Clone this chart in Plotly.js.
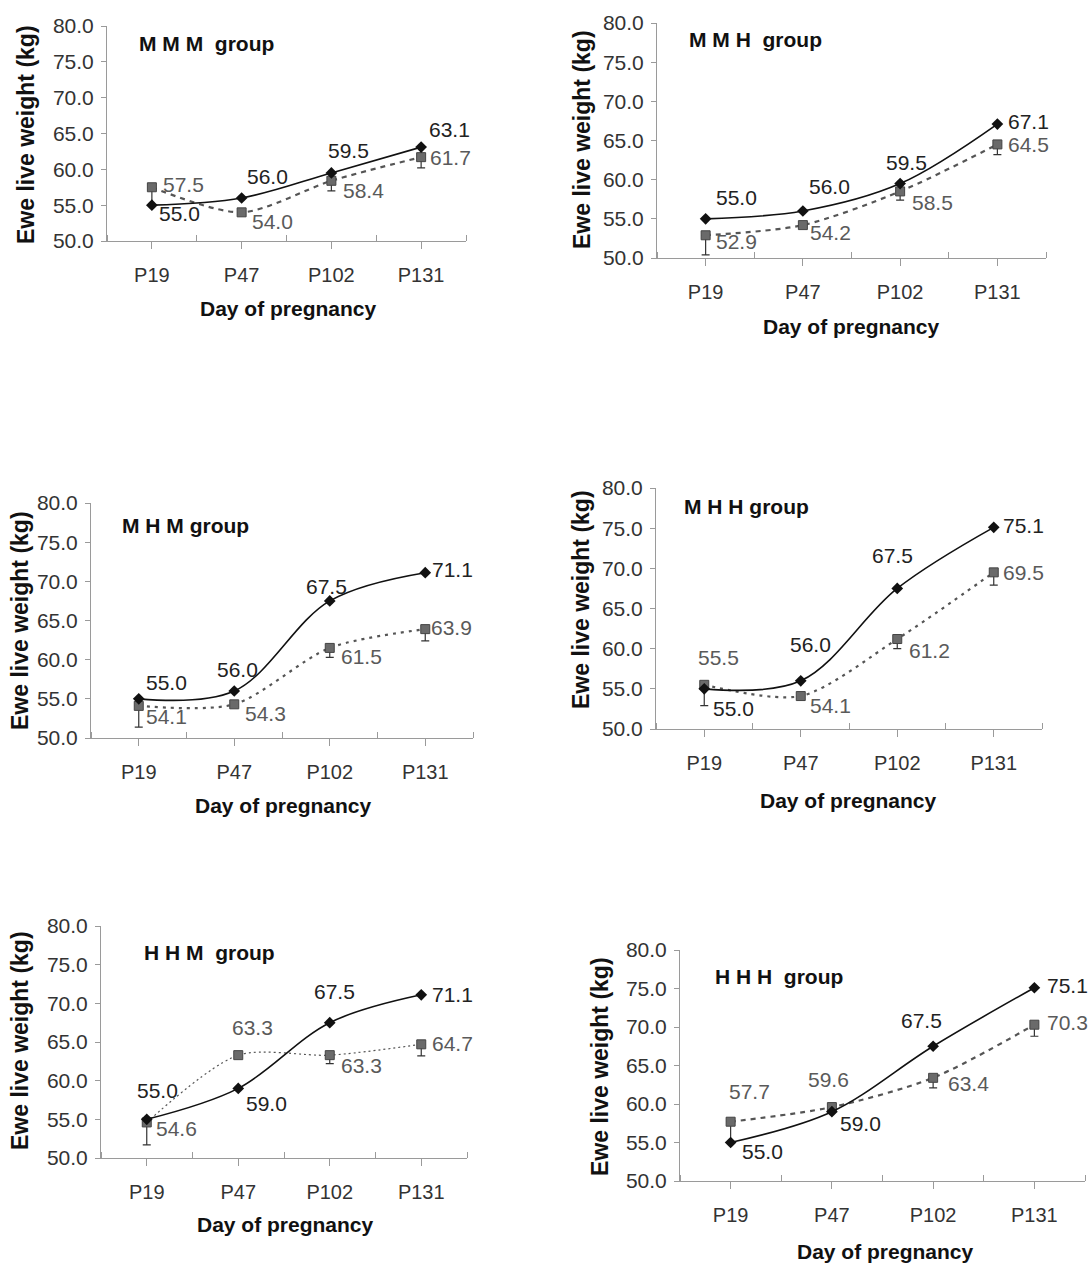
<!DOCTYPE html>
<html>
<head>
<meta charset="utf-8">
<script src="https://cdn.plot.ly/plotly-3.0.1.min.js"></script>
<style>html,body{margin:0;padding:0;background:#fff}#chart{width:1090px;height:1266px}</style>
</head>
<body>
<div id="chart"></div>
<script>
// ---------- DATA ----------
const days = ['P19', 'P47', 'P102', 'P131'];
const groupNames = ['M M M  group', 'M M H  group', 'M H M group', 'M H H group', 'H H M  group', 'H H H  group'];
const yTitle = 'Ewe live weight (kg)';
const xTitle = 'Day of pregnancy';

const mmmSolid = [55.0, 56.0, 59.5, 63.1];
const mmmDash  = [57.5, 54.0, 58.4, 61.7];
const mmmErr   = [2.5, 0.3, 1.4, 1.5];

const mmhSolid = [55.0, 56.0, 59.5, 67.1];
const mmhDash  = [52.9, 54.2, 58.5, 64.5];
const mmhErr   = [2.5, 0.3, 1.1, 1.3];

const mhmSolid = [55.0, 56.0, 67.5, 71.1];
const mhmDash  = [54.1, 54.3, 61.5, 63.9];
const mhmErr   = [2.7, 0.3, 1.2, 1.5];

const mhhSolid = [55.0, 56.0, 67.5, 75.1];
const mhhDash  = [55.5, 54.1, 61.2, 69.5];
const mhhErr   = [2.6, 0.3, 1.2, 1.6];

const hhmSolid = [55.0, 59.0, 67.5, 71.1];
const hhmDash  = [54.6, 63.3, 63.3, 64.7];
const hhmErr   = [2.9, 0.3, 1.1, 1.5];

const hhhSolid = [55.0, 59.0, 67.5, 75.1];
const hhhDash  = [57.7, 59.6, 63.4, 70.3];
const hhhErr   = [2.7, 0.3, 1.3, 1.5];

const solidSeries = [mmmSolid, mmhSolid, mhmSolid, mhhSolid, hhmSolid, hhhSolid];
const dashSeries  = [mmmDash, mmhDash, mhmDash, mhhDash, hhmDash, hhhDash];
const errSeries   = [mmmErr, mmhErr, mhmErr, mhhErr, hhmErr, hhhErr];

// ---------- LAYOUT / STYLE (pixel geometry, not data) ----------
const W = 1090, H = 1266;
// plot area: left, right, top (y=80), bottom (y=50)
const boxes = [
  [107, 466, 26, 241],
  [657, 1046, 23, 258],
  [91, 473, 503, 738],
  [656, 1042, 488, 729],
  [101, 467, 926, 1158],
  [680, 1085, 950, 1181]
];
// label offsets [dx, dy] in px (dy positive = down)
const solidOff = [
  [[28, 8], [26, -22], [17, -22], [28, -18]],
  [[31, -21], [27, -24], [6, -21], [31, -3]],
  [[28, -16], [3, -22], [-3, -14], [27, -3]],
  [[29, 20], [10, -36], [-5, -33], [30, -2]],
  [[11, -29], [28, 15], [5, -31], [31, 0]],
  [[32, 9], [29, 12], [-12, -26], [33, -2]]
];
const dashOff = [
  [[32, -3], [31, 9], [32, 10], [29, 0]],
  [[31, 6], [28, 7], [32, 11], [31, 0]],
  [[28, 11], [31, 9], [32, 9], [26, -2]],
  [[14, -27], [30, 9], [32, 11], [30, 0]],
  [[30, 6], [14, -28], [32, 10], [31, -1]],
  [[19, -30], [-3, -28], [35, 6], [33, -2]]
];
const dashStyles = ['5px,5px', '5px,5px', '3px,5px', '3px,5px', '2px,3px', '5px,5px'];
const dashWidths = [2.2, 2.2, 2.2, 2.2, 1.2, 2.2];
const yTitlePos = [[26, 135], [582, 140], [20, 621], [581, 600], [20, 1041], [600, 1067]];
const xTitlePos = [[288, 308], [851, 326], [283, 806], [848, 800], [285, 1224], [885, 1251]];
const groupPos  = [[137, 44], [687, 39], [120, 525], [682, 507], [142, 952], [713, 976]];

const FONT = 'Arial, "Liberation Sans", sans-serif';
const px = v => v / W;
const py = v => 1 - v / H;
const xIdx = days.map((d, i) => i);

const data = [];
const annotations = [];
const layout = {
  width: W, height: H,
  margin: {l: 0, r: 0, t: 0, b: 0},
  paper_bgcolor: '#fff', plot_bgcolor: 'rgba(0,0,0,0)',
  showlegend: false,
  font: {family: FONT, color: '#333'}
};

boxes.forEach((b, k) => {
  const n = k + 1;
  const xa = 'x' + (n === 1 ? '' : n), ya = 'y' + (n === 1 ? '' : n);
  layout['xaxis' + (n === 1 ? '' : n)] = {
    domain: [px(b[0]), px(b[1])], anchor: ya, range: [-0.5, 3.5],
    tickmode: 'array', tickvals: xIdx, ticktext: days,
    showline: true, linecolor: '#9a9a9a', linewidth: 1,
    ticks: 'outside', ticklen: 7, tickcolor: '#9a9a9a',
    minor: {tickmode: 'linear', tick0: 0.5, dtick: 1, ticks: 'inside', ticklen: 6, tickcolor: '#9a9a9a', showgrid: false},
    showgrid: false, zeroline: false, fixedrange: true,
    tickfont: {family: FONT, size: 20, color: '#333'}, ticklabelstandoff: 9
  };
  layout['yaxis' + (n === 1 ? '' : n)] = {
    domain: [py(b[3]), py(b[2])], anchor: xa, range: [50, 80],
    tickmode: 'linear', tick0: 50, dtick: 5, tickformat: '.1f',
    showline: true, linecolor: '#9a9a9a', linewidth: 1,
    ticks: 'outside', ticklen: 5, tickcolor: '#9a9a9a',
    showgrid: false, zeroline: false, fixedrange: true,
    tickfont: {family: FONT, size: 21, color: '#333'}, ticklabelstandoff: 3
  };

  const s = solidSeries[k], d = dashSeries[k], e = errSeries[k];
  data.push({
    type: 'scatter', mode: 'lines+markers', x: xIdx, y: d, xaxis: xa, yaxis: ya,
    line: {color: '#555', width: dashWidths[k], dash: dashStyles[k], shape: 'spline', smoothing: 0.8},
    marker: {symbol: 'square', size: 9, color: '#6a6a6a', line: {color: '#444', width: 1}},
    error_y: {type: 'data', symmetric: false, array: e.map(() => 0), arrayminus: e, color: '#333', thickness: 1.2, width: 4},
    cliponaxis: false, hoverinfo: 'skip'
  });
  data.push({
    type: 'scatter', mode: 'lines+markers', x: xIdx, y: s, xaxis: xa, yaxis: ya,
    line: {color: '#111', width: 1.6, shape: 'spline', smoothing: 1},
    marker: {symbol: 'diamond', size: 9, color: '#111'},
    cliponaxis: false, hoverinfo: 'skip'
  });

  s.forEach((v, i) => annotations.push({
    xref: xa, yref: ya, x: i, y: v, text: v.toFixed(1), showarrow: false,
    xanchor: 'center', yanchor: 'middle', xshift: solidOff[k][i][0], yshift: -solidOff[k][i][1],
    font: {family: FONT, size: 21, color: '#222'}
  }));
  d.forEach((v, i) => annotations.push({
    xref: xa, yref: ya, x: i, y: v, text: v.toFixed(1), showarrow: false,
    xanchor: 'center', yanchor: 'middle', xshift: dashOff[k][i][0], yshift: -dashOff[k][i][1],
    font: {family: FONT, size: 21, color: '#5a5a5a'}
  }));

  annotations.push({
    xref: 'paper', yref: 'paper', x: px(yTitlePos[k][0]), y: py(yTitlePos[k][1]),
    text: '<b>' + yTitle + '</b>', textangle: -90, showarrow: false,
    xanchor: 'center', yanchor: 'middle', font: {family: FONT, size: 23, color: '#111'}
  });
  annotations.push({
    xref: 'paper', yref: 'paper', x: px(xTitlePos[k][0]), y: py(xTitlePos[k][1]),
    text: '<b>' + xTitle + '</b>', showarrow: false,
    xanchor: 'center', yanchor: 'middle', font: {family: FONT, size: 21, color: '#111'}
  });
  annotations.push({
    xref: 'paper', yref: 'paper', x: px(groupPos[k][0]), y: py(groupPos[k][1]),
    text: '<b>' + groupNames[k].replace(/  /g, '&nbsp; ') + '</b>', showarrow: false,
    xanchor: 'left', yanchor: 'middle', font: {family: FONT, size: 21, color: '#111'}
  });
});

layout.annotations = annotations;
Plotly.newPlot('chart', data, layout, {staticPlot: true, displayModeBar: false});
</script>
</body>
</html>
